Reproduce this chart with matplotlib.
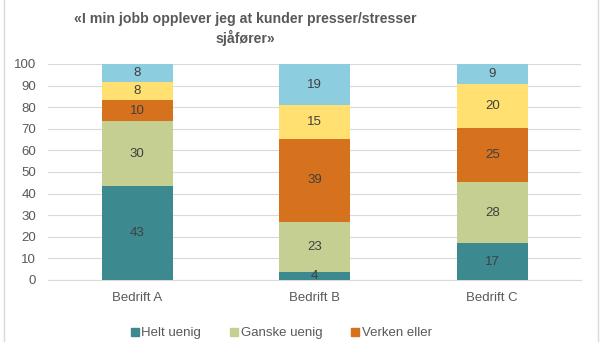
import matplotlib.pyplot as plt
from matplotlib.lines import Line2D

plt.rcParams['font.family'] = ['Liberation Sans', 'DejaVu Sans']

companies = ['Bedrift A', 'Bedrift B', 'Bedrift C']
series = ['Helt uenig', 'Ganske uenig', 'Verken eller', 'Ganske enig', 'Helt enig']
helt_uenig = [43.4, 3.8, 17.0]
ganske_uenig = [30.1, 23.1, 28.2]
verken_eller = [9.9, 38.6, 25.3]
ganske_enig = [8.3, 15.4, 20.1]
helt_enig = [8.3, 19.1, 9.4]
colors = ['#3C8A8F', '#C5CF92', '#D6711D', '#FFE070', '#8DCDE0']

fig = plt.figure(figsize=(6.03, 3.42), dpi=100)
ax = fig.add_axes([0.0804, 0.1813, 0.883, 0.6316])

x = range(len(companies))
bottom = [0, 0, 0]
for name, vals, c in zip(series, [helt_uenig, ganske_uenig, verken_eller, ganske_enig, helt_enig], colors):
    bars = ax.bar(x, vals, bottom=bottom, width=0.4, color=c, zorder=3)
    for b, v, bt in zip(bars, vals, bottom):
        ax.text(b.get_x() + b.get_width() / 2, bt + v / 2, str(round(v)), ha='center', va='center',
                fontsize=9.5, color='#404040', zorder=4)
    bottom = [a + v for a, v in zip(bottom, vals)]

ax.set_xlim(-0.5, 2.5)
ax.set_ylim(0, 100)
ax.set_yticks(range(0, 101, 10))
ax.set_xticks(list(x))
ax.set_xticklabels(companies)
ax.grid(axis='y', color='#D9D9D9', linewidth=0.8, zorder=0)
for s in ['top', 'right', 'left']:
    ax.spines[s].set_visible(False)
ax.spines['bottom'].set_color('#D9D9D9')
ax.tick_params(axis='both', length=0, labelsize=9.5, colors='#595959')
ax.tick_params(axis='y', pad=9)
ax.tick_params(axis='x', pad=9)

fig.text(245 / 603, 1 - 29 / 342, '«I min jobb opplever jeg at kunder presser/stresser\nsjåfører»',
         ha='center', va='center', fontsize=10.2, fontweight='bold', color='#595959', linespacing=1.3)

handles = [Line2D([], [], marker='s', linestyle='none', markersize=5.5, color=c) for c in colors[:3]]
fig.legend(handles, series[:3], loc='center', bbox_to_anchor=(280 / 603, 1 - 333 / 342), ncol=3,
           frameon=False, fontsize=9.5, labelcolor='#595959', handletextpad=0.0, columnspacing=2.0,
           handlelength=1.0, borderpad=0)

fig.add_artist(Line2D([4 / 603, 4 / 603], [0, 1], color='#D9D9D9', linewidth=1))
fig.add_artist(Line2D([598 / 603, 598 / 603], [0, 1], color='#D9D9D9', linewidth=1))

fig.savefig('out.png', dpi=100)
